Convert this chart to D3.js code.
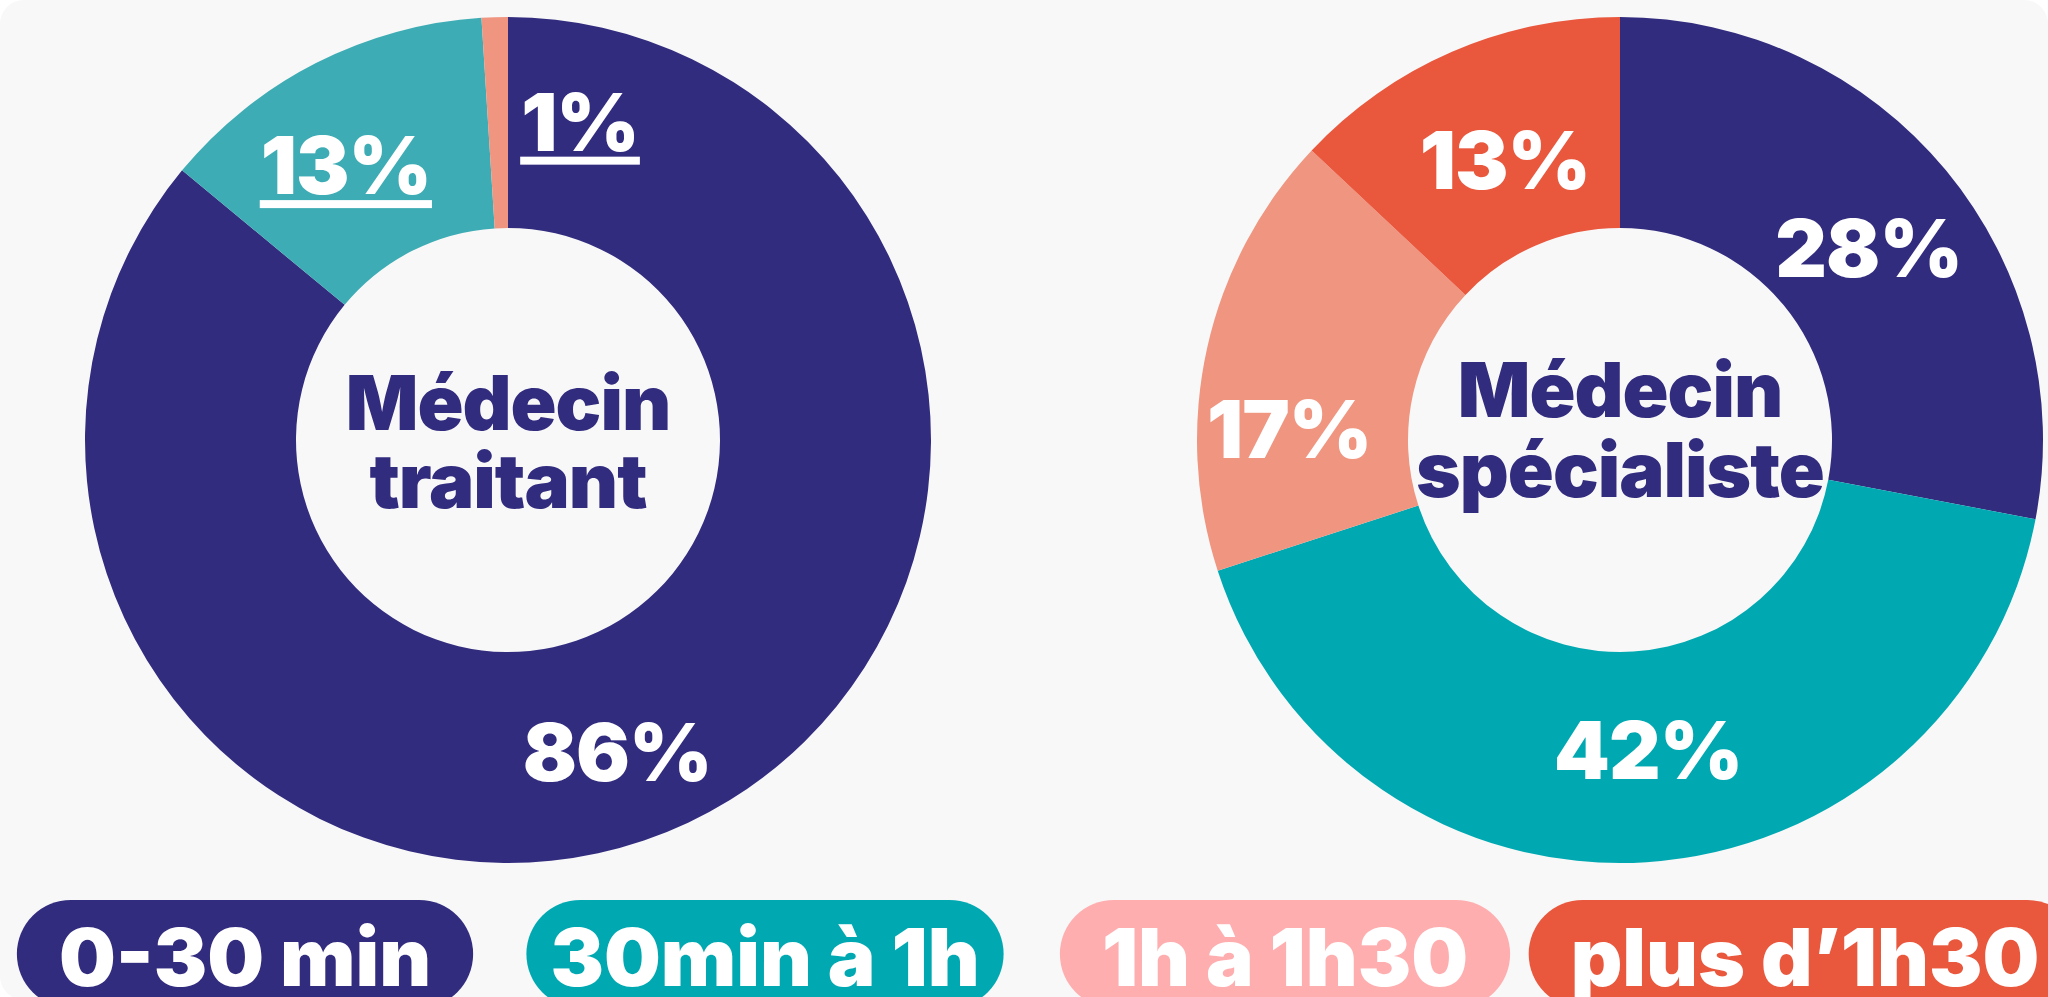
<!DOCTYPE html>
<html>
<head>
<meta charset="utf-8">
<script src="https://cdn.jsdelivr.net/npm/d3@7"></script>
<style>
  html, body { margin: 0; padding: 0; background: #ffffff; overflow: hidden; }
  svg { display: block; }
  text { font-family: Inter, Lato, "Noto Sans", sans-serif; font-weight: 900; }
</style>
</head>
<body>
<svg id="chart" width="2048" height="997"></svg>
<script>
// data
var categories = ['0-30 min', '30min à 1h', '1h à 1h30', 'plus d\u20191h30'];
var traitantValues = [86, 13, 1, 0];
var specialisteValues = [28, 42, 17, 13];
var titleTraitant = ['Médecin', 'traitant'];
var titleSpecialiste = ['Médecin', 'spécialiste'];
var underlinedTraitant = ['30min à 1h', '1h à 1h30'];

// styles
var navy = '#322c7f';
var legendColors = [navy, '#00a9b2', '#ffaeb0', '#e9573d'];
var traitantColors = [navy, '#3eacb4', '#ef9580', '#e9573d'];
var specialisteColors = [navy, '#00a9b2', '#ef9580', '#e9573d'];

var W = 2048, H = 997;
var outerR = 423, innerR = 212;

var svg = d3.select('#chart');

svg.append('rect')
	.attr('width', W).attr('height', 1000)
	.attr('rx', 24)
	.attr('fill', '#f8f8f8');

var pie = d3.pie().sort(null).value(function(d){ return d; });
var arc = d3.arc().innerRadius(innerR).outerRadius(outerR);

var charts = [
	{ values: traitantValues, colors: traitantColors, title: titleTraitant, cx: 508,
	  titleDy: [-10, 78], underlined: underlinedTraitant,
	  nudge: [[-26, 25], [-18, 8], [82, -1], [0, 0]] },
	{ values: specialisteValues, colors: specialisteColors, title: titleSpecialiste, cx: 1620,
	  titleDy: [-23, 80], underlined: [],
	  nudge: [[4, 10], [8, -7], [-21, 58], [11, 11]] }
];

var drawDonut = function(c){
	var g = svg.append('g').attr('transform', 'translate(' + c.cx + ',440)');
	var slices = pie(c.values);

	g.selectAll('path').data(slices).enter()
		.append('path')
		.attr('d', arc)
		.attr('fill', function(d, i){ return c.colors[i]; });

	var labels = g.selectAll('g.lbl').data(slices.filter(function(d){ return d.data > 0; }))
		.enter().append('g').attr('class', 'lbl');

	labels.each(function(d){
		var i = d.index;
		var p = arc.centroid(d);
		var x = p[0] + c.nudge[i][0], y = p[1] + c.nudge[i][1];
		var t = d3.select(this).append('text')
			.attr('x', x).attr('y', y + 29)
			.attr('text-anchor', 'middle')
			.attr('font-size', 80)
			.attr('letter-spacing', -1)
			.attr('fill', '#ffffff')
			.text(d.data + '%');
		if (c.underlined.indexOf(categories[i]) >= 0) {
			var bb = t.node().getBBox();
			d3.select(this).append('rect')
				.attr('x', bb.x - 1).attr('y', y + 35)
				.attr('width', bb.width + 2).attr('height', 8)
				.attr('fill', '#ffffff');
		}
	});

	// centre title, one text with a tspan per line
	var title = g.append('text')
		.attr('text-anchor', 'middle')
		.attr('font-size', 76)
		.attr('letter-spacing', -1)
		.attr('fill', navy);
	title.selectAll('tspan').data(c.title).enter()
		.append('tspan')
		.attr('x', 0)
		.attr('y', function(d, i){ return i === 0 ? c.titleDy[0] : null; })
		.attr('dy', function(d, i){ return i === 0 ? null : c.titleDy[1]; })
		.text(function(d){ return d; });
};

charts.forEach(drawDonut);

// legend pills
var xLegend = d3.scalePoint().domain(categories).range([245, 1805]);
var legend = svg.selectAll('g.pill').data(categories).enter()
	.append('g').attr('class', 'pill')
	.attr('transform', function(d){ return 'translate(' + xLegend(d) + ',0)'; });

legend.each(function(d, i){
	var g = d3.select(this);
	var r = g.append('rect');
	var t = g.append('text')
		.attr('x', 0).attr('y', 986)
		.attr('text-anchor', 'middle')
		.attr('font-size', 80)
		.attr('letter-spacing', 0)
		.attr('fill', '#ffffff')
		.text(d);
	var w = t.node().getBBox().width;
	var pad = i === 1 ? 24 : 42;
	r.attr('x', -w / 2 - pad).attr('y', 900)
		.attr('width', w + 2 * pad).attr('height', 108)
		.attr('rx', 54)
		.attr('fill', legendColors[i]);
});
</script>
</body>
</html>
